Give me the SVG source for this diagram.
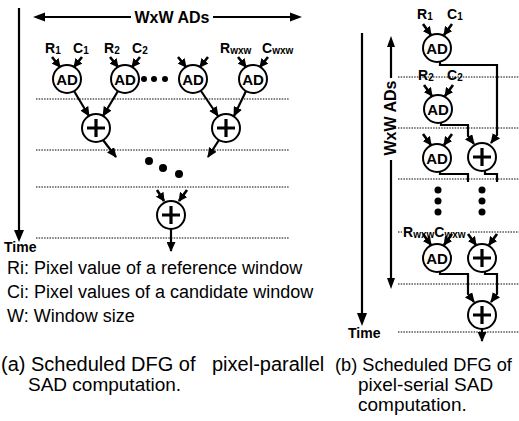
<svg xmlns="http://www.w3.org/2000/svg" width="519" height="421" viewBox="0 0 519 421">
<defs>
<marker id="ah" markerUnits="userSpaceOnUse" markerWidth="10" markerHeight="9" refX="9" refY="4.5" orient="auto"><path d="M0,0 L10,4.5 L0,9 z" fill="#000"/></marker>
<marker id="ahs" markerUnits="userSpaceOnUse" markerWidth="9" markerHeight="9" refX="8" refY="4.5" orient="auto"><path d="M0,0 L9,4.5 L0,9 z" fill="#000"/></marker>
<style>
.ln{stroke:#000;stroke-width:2.2;fill:none}
.in{stroke:#000;stroke-width:2.6;fill:none;marker-end:url(#ahs)}
.ar{stroke:#000;stroke-width:2.2;fill:none;marker-end:url(#ah)}
.dt{stroke:#000;stroke-width:1;stroke-dasharray:1.5 1.2;fill:none}
circle.n{fill:#fff;stroke:#000;stroke-width:2}
.pl{stroke:#000;stroke-width:3.2}
text{font-family:"Liberation Sans",Arial,Helvetica,sans-serif;fill:#000}
.b{font-weight:bold}
.ad{font-weight:bold;font-size:15px;text-anchor:middle}
.lb{font-weight:bold;font-size:14px}
.sb{font-size:10px}
.lg{font-size:18px}
.cp{font-size:19px}
</style>
</defs>

<!-- LEFT PANEL -->
<g id="left-axes">
<line class="ln" x1="19" y1="8" x2="19" y2="232" stroke-width="2.8"/>
<path d="M14,230 L24,230 L19,242 z" fill="#000"/>
<text class="b" x="4" y="252" font-size="14">Time</text>
<line class="ln" x1="42" y1="17" x2="131" y2="17"/>
<path d="M33,17 L45,12.5 L45,21.5 z" fill="#000"/>
<text class="b" x="172" y="23" font-size="16" text-anchor="middle">WxW ADs</text>
<line class="ln" x1="213" y1="17" x2="292" y2="17"/>
<path d="M302,17 L290,12.5 L290,21.5 z" fill="#000"/>
</g>

<g id="left-timelines">
<line class="dt" x1="36" y1="99" x2="289" y2="99"/>
<line class="dt" x1="36" y1="150" x2="289" y2="150"/>
<line class="dt" x1="36" y1="187" x2="289" y2="187"/>
<line class="dt" x1="36" y1="238" x2="289" y2="238"/>
</g>

<g id="left-labels">
<text class="lb" x="45" y="53">R<tspan class="sb" dy="1">1</tspan></text>
<text class="lb" x="73" y="53">C<tspan class="sb" dy="1">1</tspan></text>
<text class="lb" x="104" y="53">R<tspan class="sb" dy="1">2</tspan></text>
<text class="lb" x="132" y="53">C<tspan class="sb" dy="1">2</tspan></text>
<text class="lb" x="220" y="53">R<tspan class="sb" dy="1">wxw</tspan></text>
<text class="lb" x="262" y="53">C<tspan class="sb" dy="1">wxw</tspan></text>
</g>

<g id="connectors-left">
<line class="in" x1="52" y1="57" x2="60" y2="67"/>
<line class="in" x1="82" y1="57" x2="74" y2="67"/>
<line class="in" x1="110" y1="57" x2="118" y2="67"/>
<line class="in" x1="140" y1="57" x2="132" y2="67"/>
<line class="in" x1="178" y1="57" x2="186" y2="67"/>
<line class="in" x1="208" y1="57" x2="200" y2="67"/>
<line class="in" x1="238" y1="57" x2="246" y2="67"/>
<line class="in" x1="268" y1="57" x2="260" y2="67"/>
<line class="ar" x1="74" y1="91" x2="89" y2="116"/>
<line class="ar" x1="118" y1="91" x2="103" y2="116"/>
<line class="ar" x1="201" y1="91" x2="218" y2="116"/>
<line class="ar" x1="246" y1="91" x2="234" y2="116"/>
<line class="ar" x1="103" y1="140" x2="116" y2="157"/>
<line class="ar" x1="219" y1="140" x2="208" y2="157"/>
<line class="in" x1="157" y1="190" x2="164" y2="201"/>
<line class="in" x1="187" y1="190" x2="179" y2="201"/>
<line class="ar" x1="171" y1="229" x2="171" y2="251"/>
</g>

<g id="left-ad1"><circle class="n" cx="67" cy="79" r="14"/><text class="ad" x="67" y="84.5">AD</text></g>
<g id="left-ad2"><circle class="n" cx="125" cy="79" r="14"/><text class="ad" x="125" y="84.5">AD</text></g>
<g id="left-ad3"><circle class="n" cx="193" cy="79" r="14"/><text class="ad" x="193" y="84.5">AD</text></g>
<g id="left-ad4"><circle class="n" cx="253" cy="79" r="14"/><text class="ad" x="253" y="84.5">AD</text></g>
<g id="left-dots1"><circle cx="144" cy="79" r="3"/><circle cx="154" cy="79" r="3"/><circle cx="165" cy="79" r="3"/></g>
<g id="left-plus1"><circle class="n" cx="96" cy="128" r="14"/><path class="pl" d="M87,128 H105 M96,119 V137"/></g>
<g id="left-plus2"><circle class="n" cx="226" cy="128" r="14"/><path class="pl" d="M217,128 H235 M226,119 V137"/></g>
<g id="left-dots2"><circle cx="149" cy="161" r="4"/><circle cx="163" cy="168" r="4"/><circle cx="179" cy="174" r="4"/></g>
<g id="left-plus3"><circle class="n" cx="171" cy="215" r="14"/><path class="pl" d="M162,215 H180 M171,206 V224"/></g>

<g id="legend">
<text class="lg" x="7" y="274">Ri: Pixel value of a reference window</text>
<text class="lg" x="7" y="298">Ci: Pixel values of a candidate window</text>
<text class="lg" x="7" y="322">W: Window size</text>
</g>

<!-- RIGHT PANEL -->
<g id="right-axes">
<line class="ln" x1="362" y1="33" x2="362" y2="314" stroke-width="2.8"/>
<path d="M357,313 L367,313 L362,326 z" fill="#000"/>
<text class="b" x="348" y="338" font-size="14">Time</text>
<line class="ln" x1="391" y1="45" x2="391" y2="78" stroke-width="2"/>
<path d="M391,36 L387,47 L395,47 z" fill="#000"/>
<text class="b" font-size="16" text-anchor="middle" transform="translate(396,118) rotate(-90)">WxW ADs</text>
<line class="ln" x1="391" y1="160" x2="391" y2="280" stroke-width="2"/>
<path d="M391,289 L387,278 L395,278 z" fill="#000"/>
</g>

<g id="right-timelines">
<line class="dt" x1="398" y1="77" x2="519" y2="77"/>
<line class="dt" x1="398" y1="128" x2="519" y2="128"/>
<line class="dt" x1="398" y1="179" x2="519" y2="179"/>
<line class="dt" x1="398" y1="232" x2="402" y2="232"/>
<line class="dt" x1="470" y1="232" x2="519" y2="232"/>
<line class="dt" x1="398" y1="284" x2="519" y2="284"/>
<line class="dt" x1="398" y1="332" x2="519" y2="332"/>
</g>

<g id="right-labels">
<text class="lb" x="417" y="19">R<tspan class="sb" dy="1">1</tspan></text>
<text class="lb" x="447" y="19">C<tspan class="sb" dy="1">1</tspan></text>
<text class="lb" x="418" y="80">R<tspan class="sb" dy="1">2</tspan></text>
<text class="lb" x="447" y="80">C<tspan class="sb" dy="1">2</tspan></text>
<text class="lb" x="403" y="237">R<tspan class="sb" dy="1">wxw</tspan><tspan dy="-1">C</tspan><tspan class="sb" dy="1">wxw</tspan></text>
</g>

<g id="connectors-right">
<line class="in" x1="423" y1="24" x2="431" y2="35"/>
<line class="in" x1="452" y1="24" x2="444" y2="35"/>
<line class="in" x1="424" y1="85" x2="432" y2="96"/>
<line class="in" x1="453" y1="85" x2="445" y2="96"/>
<line class="in" x1="423" y1="134" x2="431" y2="145"/>
<line class="in" x1="452" y1="134" x2="444" y2="145"/>
<line class="in" x1="423" y1="234" x2="431" y2="245"/>
<line class="in" x1="452" y1="234" x2="444" y2="245"/>
<line class="in" x1="468" y1="234" x2="476" y2="245"/>
<line class="in" x1="497" y1="234" x2="489" y2="245"/>
<path class="ar" d="M440,62 V65 H497 V135 L491,143"/>
<path class="ar" d="M441,123 V125 H468 V136 L474,144"/>
<path class="ln" d="M440,172 V174 H468 V182"/>
<path class="ln" d="M485,171 V174 H497 V182"/>
<path class="ar" d="M440,272 V274 H468 V294 L474,302"/>
<path class="ar" d="M485,272 V274 H497 V294 L491,302"/>
<path class="ar" d="M482,329 V341"/>
</g>

<g id="right-ad1"><circle class="n" cx="437" cy="48" r="14"/><text class="ad" x="437" y="53.5">AD</text></g>
<g id="right-ad2"><circle class="n" cx="438" cy="109" r="14"/><text class="ad" x="438" y="114.5">AD</text></g>
<g id="right-ad3"><circle class="n" cx="437" cy="158" r="14"/><text class="ad" x="437" y="163.5">AD</text></g>
<g id="right-plus3"><circle class="n" cx="482" cy="157" r="14"/><path class="pl" d="M473,157 H491 M482,148 V166"/></g>
<g id="right-dots"><circle cx="438" cy="190" r="3.5"/><circle cx="438" cy="201" r="3.5"/><circle cx="438" cy="212" r="3.5"/><circle cx="482" cy="190" r="3.5"/><circle cx="482" cy="201" r="3.5"/><circle cx="482" cy="212" r="3.5"/></g>
<g id="right-ad4"><circle class="n" cx="437" cy="258" r="14"/><text class="ad" x="437" y="263.5">AD</text></g>
<g id="right-plus4"><circle class="n" cx="482" cy="258" r="14"/><path class="pl" d="M473,258 H491 M482,249 V267"/></g>
<g id="right-plus5"><circle class="n" cx="482" cy="315" r="14"/><path class="pl" d="M473,315 H491 M482,306 V324"/></g>

<g id="captions">
<text class="cp" x="1" y="371" style="font-size:20px">(a) Scheduled DFG of<tspan x="212">pixel-parallel</tspan></text>
<text class="cp" x="28" y="391">SAD computation.</text>
<text class="cp" x="335" y="371" style="font-size:18.2px">(b) Scheduled DFG of</text>
<text class="cp" x="358" y="391">pixel-serial SAD</text>
<text class="cp" x="358" y="411">computation.</text>
</g>
</svg>
